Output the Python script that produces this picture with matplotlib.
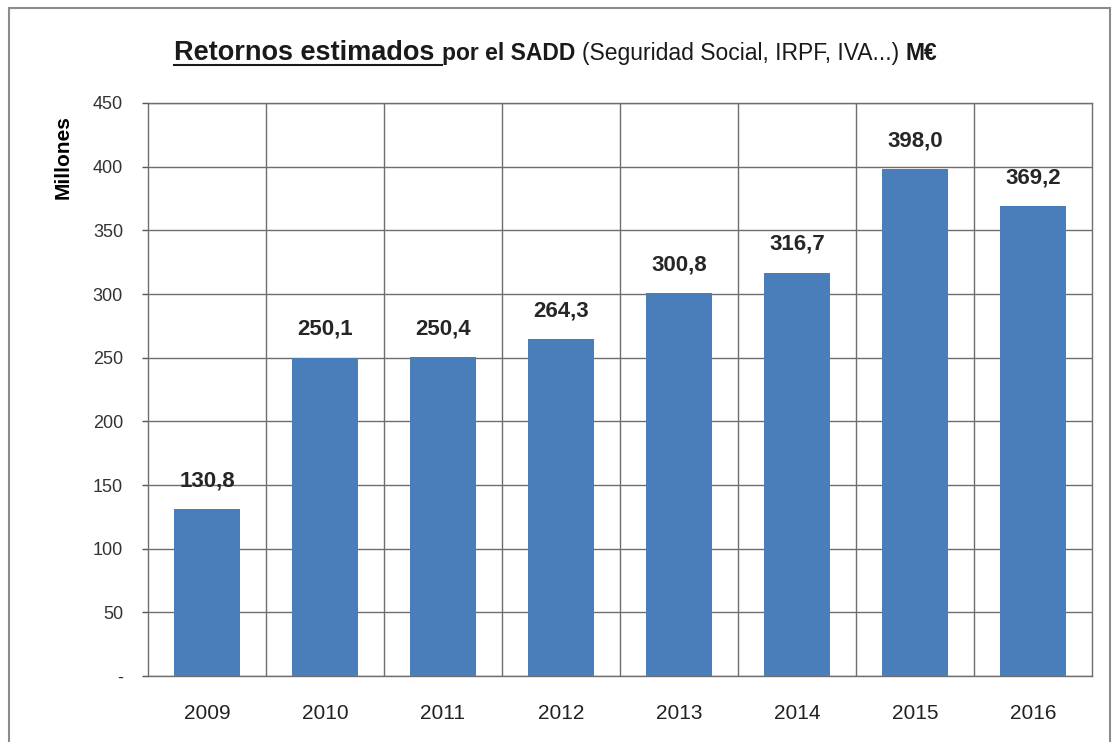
import numpy as np
import matplotlib.pyplot as plt
from matplotlib.patches import Rectangle
from matplotlib.lines import Line2D

# datos
anios = ['2009', '2010', '2011', '2012', '2013', '2014', '2015', '2016']
retornos = [130.8, 250.1, 250.4, 264.3, 300.8, 316.7, 398.0, 369.2]
yticks = [0, 50, 100, 150, 200, 250, 300, 350, 400, 450]
ytick_labels = ['-', '50', '100', '150', '200', '250', '300', '350', '400', '450']

plt.rcParams['font.family'] = ['Liberation Sans', 'DejaVu Sans']

fig = plt.figure(figsize=(11.17, 7.42), dpi=100)
ax = fig.add_axes([0.1325, 0.0889, 0.8451, 0.7723])

x = np.arange(len(anios))
ax.bar(x, retornos, width=0.56, color='#4a7ebb', zorder=3)
for xi, v in zip(x, retornos):
    ax.text(xi, v + 14, f'{v:.1f}'.replace('.', ','), ha='center', va='bottom',
            fontsize=16, fontweight='bold', color='#262626', zorder=4)

ax.set_xlim(-0.5, len(anios) - 0.5)
ax.set_ylim(0, 450)
ax.set_yticks(yticks)
ax.set_yticklabels(ytick_labels, fontsize=13, color='#333333')
ax.set_xticks(x)
ax.set_xticklabels(anios, fontsize=15, color='#222222')
ax.tick_params(axis='x', length=0, pad=20)
ax.tick_params(axis='y', length=4, width=1, color='#555555', pad=14)

# rejilla
ax.yaxis.grid(True, color='#6e6e6e', linewidth=1, zorder=0)
for b in np.arange(0.5, len(anios) - 0.5, 1):
    ax.axvline(b, color='#6e6e6e', linewidth=1, zorder=0)
for s in ax.spines.values():
    s.set_color('#6e6e6e')
    s.set_linewidth(1)

ax.set_ylabel('Millones', fontsize=15, fontweight='bold')
ax.yaxis.set_label_coords(-0.08, 0.905)

# borde exterior
fig.patches.append(Rectangle((0.008, -0.01), 0.986, 0.999, transform=fig.transFigure,
                             fill=False, edgecolor='#8c8c8c', linewidth=1.5))

# titulo con varios estilos
renderer = fig.canvas.get_renderer()
partes = [('Retornos estimados ', 19.5, 'bold'),
          ('por el SADD ', 16.5, 'bold'),
          ('(Seguridad Social, IRPF, IVA...) ', 16.5, 'normal'),
          ('M€', 16.5, 'bold')]
xpos = 174 / 1117
ypos = 1 - 60 / 742
for i, (txt, fs, fw) in enumerate(partes):
    t = fig.text(xpos, ypos, txt, fontsize=fs, fontweight=fw, color='#1a1a1a',
                 ha='left', va='baseline')
    bb = t.get_window_extent(renderer)
    if i == 0:
        fig.add_artist(Line2D([bb.x0 / 1117, bb.x1 / 1117], [ypos - 0.007, ypos - 0.007],
                              transform=fig.transFigure, color='#1a1a1a', linewidth=1.5))
    xpos = bb.x1 / 1117

fig.savefig('out.png', dpi=100)
